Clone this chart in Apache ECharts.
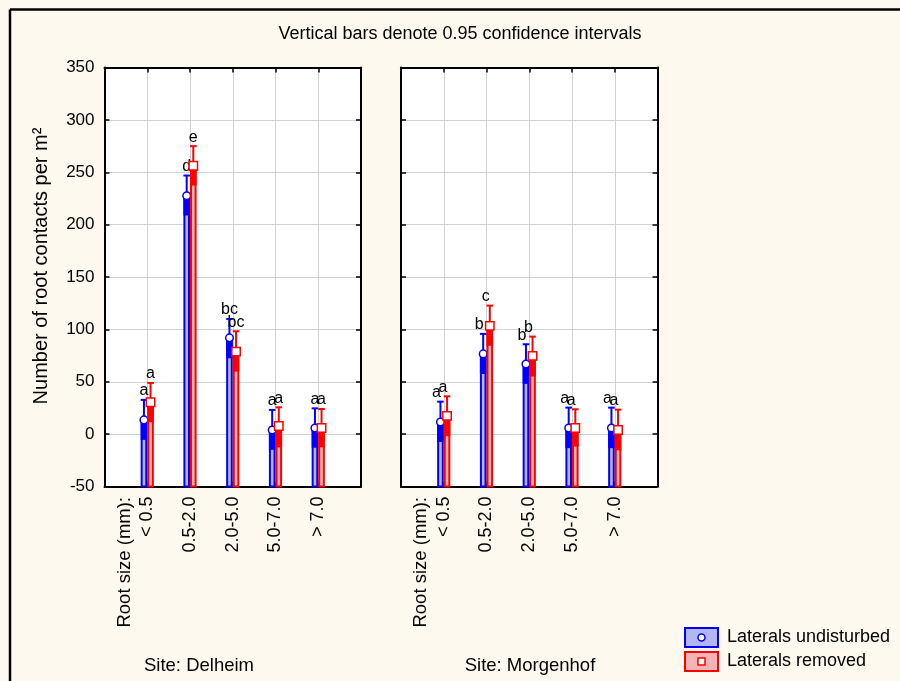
<!DOCTYPE html>
<html>
<head>
<meta charset="utf-8">
<script src="https://cdn.jsdelivr.net/npm/echarts@6/dist/echarts.min.js"></script>
<style>
html,body{margin:0;padding:0;background:#fdf9ee;}
#chart{width:900px;height:681px;}
</style>
</head>
<body>
<div id="chart"></div>
<script>
// ---- data ----
const categories = ['< 0.5', '0.5-2.0', '2.0-5.0', '5.0-7.0', '> 7.0'];
const sites = ['Site: Delheim', 'Site: Morgenhof'];
const seriesNames = ['Laterals undisturbed', 'Laterals removed'];
const yTicks = { min: -50, max: 350, step: 50 };

// Delheim
const delheimUndMean = [13.6, 227.5, 91.9, 4.0, 5.9];
const delheimUndLow  = [-5.5, 208.7, 72.4, -15.0, -13.0];
const delheimUndHigh = [32.7, 246.9, 110.0, 23.1, 24.6];
const delheimRemMean = [30.4, 256.2, 78.8, 7.8, 5.9];
const delheimRemLow  = [11.3, 237.3, 59.7, -12.6, -12.6];
const delheimRemHigh = [48.9, 274.9, 98.2, 25.6, 24.0];
const delheimUndLetters = ['a', 'd', 'bc', 'a', 'a'];
const delheimRemLetters = ['a', 'e', 'bc', 'a', 'a'];

// Morgenhof
const morgenUndMean = [11.6, 76.6, 67.0, 5.9, 5.9];
const morgenUndLow  = [-7.4, 57.4, 48.0, -13.4, -13.4];
const morgenUndHigh = [31.0, 95.7, 85.8, 25.3, 25.3];
const morgenRemMean = [17.4, 103.3, 74.7, 5.9, 4.0];
const morgenRemLow  = [-2.0, 84.3, 55.0, -11.9, -15.4];
const morgenRemHigh = [36.1, 122.7, 93.1, 23.7, 23.4];
const morgenUndLetters = ['a', 'b', 'b', 'a', 'a'];
const morgenRemLetters = ['a', 'c', 'b', 'a', 'a'];

// ---- styles ----
const FONT = "'Liberation Sans', Arial, sans-serif";
const BLUE = '#0000ff', RED = '#ff0000';
const BLUE_LIGHT = '#b3b6f6', RED_LIGHT = '#f6b3b3';

function rowsFor(means, lows, highs) {
  return categories.map((c, i) => [i + 1, means[i], lows[i], highs[i]]);
}

function makeRender(letters, side, color, light, marker, letterDx) {
  return function (params, api) {
    const i = params.dataIndex;
    const x = api.value(0);
    const base = api.coord([x, yTicks.min]);
    const pm = api.coord([x, api.value(1)]);
    const pl = api.coord([x, api.value(2)]);
    const ph = api.coord([x, api.value(3)]);
    const w = 6.6;
    const cx = base[0] + side * 3.3;
    const children = [
      { type: 'rect', shape: { x: cx - w / 2 + 1, y: pm[1], width: w - 2, height: base[1] - pm[1] },
        style: { fill: light, stroke: color, lineWidth: 2 } },
      { type: 'rect', shape: { x: cx - w / 2, y: pm[1], width: w, height: pl[1] - pm[1] },
        style: { fill: color } },
      { type: 'line', shape: { x1: cx, y1: pm[1], x2: cx, y2: ph[1] },
        style: { stroke: color, lineWidth: 2 } },
      { type: 'line', shape: { x1: cx - 3.3, y1: ph[1], x2: cx + 3.3, y2: ph[1] },
        style: { stroke: color, lineWidth: 2 } }
    ];
    if (marker === 'circle') {
      children.push({ type: 'circle', shape: { cx: cx, cy: pm[1], r: 3.8 },
        style: { fill: '#fff', stroke: color, lineWidth: 1.5 } });
    } else {
      children.push({ type: 'rect', shape: { x: cx - 4.2, y: pm[1] - 4.2, width: 8.4, height: 8.4 },
        style: { fill: '#fff', stroke: color, lineWidth: 1.5 } });
    }
    children.push({ type: 'text', x: cx + letterDx, y: ph[1] - 1,
      style: { text: letters[i], fill: '#000', font: '16px ' + FONT, align: 'center', verticalAlign: 'bottom' } });
    return { type: 'group', children: children };
  };
}

const gridBox = { top: 67.5, height: 419, width: 256.5 };
const grids = [
  Object.assign({ left: 104.5 }, gridBox),
  Object.assign({ left: 401 }, gridBox)
].map(g => Object.assign(g, { show: true, backgroundColor: '#ffffff', borderWidth: 0, containLabel: false }));

const tickStyle = { show: true, inside: true, length: 5, lineStyle: { color: '#000', width: 1.5 } };
const frameLine = { show: true, onZero: false, lineStyle: { color: '#000', width: 2 } };
const gridLine = { show: true, lineStyle: { color: '#d2d2d2', width: 1 } };

const xAxes = [], yAxes = [];
[0, 1].forEach(g => {
  xAxes.push({ gridIndex: g, type: 'value', min: 0, max: categories.length + 1, interval: 1, position: 'bottom',
    axisLine: frameLine, axisTick: tickStyle, splitLine: gridLine,
    axisLabel: { rotate: 90, margin: 10, color: '#000', fontSize: 18, fontFamily: FONT,
      formatter: v => categories[v - 1] || '' } });
  xAxes.push({ gridIndex: g, type: 'value', min: 0, max: categories.length + 1, interval: 1, position: 'top',
    axisLine: frameLine, axisTick: tickStyle, splitLine: { show: false }, axisLabel: { show: false } });
  yAxes.push({ gridIndex: g, type: 'value', min: yTicks.min, max: yTicks.max, interval: yTicks.step, position: 'left',
    axisLine: frameLine, axisTick: tickStyle, splitLine: gridLine,
    axisLabel: { show: g === 0, margin: 10, color: '#000', fontSize: 17, fontFamily: FONT } });
  yAxes.push({ gridIndex: g, type: 'value', min: yTicks.min, max: yTicks.max, interval: yTicks.step, position: 'right',
    axisLine: frameLine, axisTick: tickStyle, splitLine: { show: false }, axisLabel: { show: false } });
});

const panels = [
  { und: [delheimUndMean, delheimUndLow, delheimUndHigh, delheimUndLetters],
    rem: [delheimRemMean, delheimRemLow, delheimRemHigh, delheimRemLetters], dx: 0 },
  { und: [morgenUndMean, morgenUndLow, morgenUndHigh, morgenUndLetters],
    rem: [morgenRemMean, morgenRemLow, morgenRemHigh, morgenRemLetters], dx: -4 }
];

const series = [];
panels.forEach((p, g) => {
  series.push({ type: 'custom', name: seriesNames[0], xAxisIndex: g * 2, yAxisIndex: g * 2, z: 3,
    data: rowsFor(p.und[0], p.und[1], p.und[2]), encode: { x: 0, y: [1, 2, 3] },
    renderItem: makeRender(p.und[3], -1, BLUE, BLUE_LIGHT, 'circle', p.dx) });
  series.push({ type: 'custom', name: seriesNames[1], xAxisIndex: g * 2, yAxisIndex: g * 2, z: 4,
    data: rowsFor(p.rem[0], p.rem[1], p.rem[2]), encode: { x: 0, y: [1, 2, 3] },
    renderItem: makeRender(p.rem[3], 1, RED, RED_LIGHT, 'square', p.dx) });
});

const txt = (size, o) => Object.assign({ fill: '#000', font: size + 'px ' + FONT }, o);
const graphic = [
  { type: 'line', shape: { x1: 10, y1: 9.5, x2: 900, y2: 9.5 }, style: { stroke: '#000', lineWidth: 2.5 } },
  { type: 'line', shape: { x1: 10, y1: 9.5, x2: 10, y2: 681 }, style: { stroke: '#000', lineWidth: 2.5 } },
  { type: 'text', x: 460, y: 34, style: txt(18, { text: 'Vertical bars denote 0.95 confidence intervals', align: 'center', verticalAlign: 'middle' }) },
  { type: 'text', x: 41, y: 266, rotation: Math.PI / 2, style: txt(20, { text: 'Number of root contacts per m²', align: 'center', verticalAlign: 'middle' }) },
  { type: 'text', x: 125, y: 497, rotation: Math.PI / 2, style: txt(18.5, { text: 'Root size (mm):', align: 'right', verticalAlign: 'middle' }) },
  { type: 'text', x: 421, y: 497, rotation: Math.PI / 2, style: txt(18.5, { text: 'Root size (mm):', align: 'right', verticalAlign: 'middle' }) },
  { type: 'text', x: 199, y: 666, style: txt(18.5, { text: sites[0], align: 'center', verticalAlign: 'middle' }) },
  { type: 'text', x: 530, y: 666, style: txt(18.5, { text: sites[1], align: 'center', verticalAlign: 'middle' }) },
  // legend
  { type: 'rect', shape: { x: 685, y: 628, width: 33, height: 19 }, style: { fill: BLUE_LIGHT, stroke: BLUE, lineWidth: 2 } },
  { type: 'circle', shape: { cx: 701.5, cy: 637.5, r: 3.5 }, style: { fill: '#fff', stroke: BLUE, lineWidth: 1.5 } },
  { type: 'text', x: 727, y: 637.5, style: txt(18, { text: seriesNames[0], align: 'left', verticalAlign: 'middle' }) },
  { type: 'rect', shape: { x: 685, y: 652, width: 33, height: 19 }, style: { fill: RED_LIGHT, stroke: RED, lineWidth: 2 } },
  { type: 'rect', shape: { x: 698, y: 658, width: 7, height: 7 }, style: { fill: '#fff', stroke: RED, lineWidth: 1.5 } },
  { type: 'text', x: 727, y: 661.5, style: txt(18, { text: seriesNames[1], align: 'left', verticalAlign: 'middle' }) }
];

const chart = echarts.init(document.getElementById('chart'), null, { renderer: 'canvas' });
chart.setOption({
  backgroundColor: '#fdf9ee',
  animation: false,
  grid: grids,
  xAxis: xAxes,
  yAxis: yAxes,
  series: series,
  graphic: graphic
});
</script>
</body>
</html>
